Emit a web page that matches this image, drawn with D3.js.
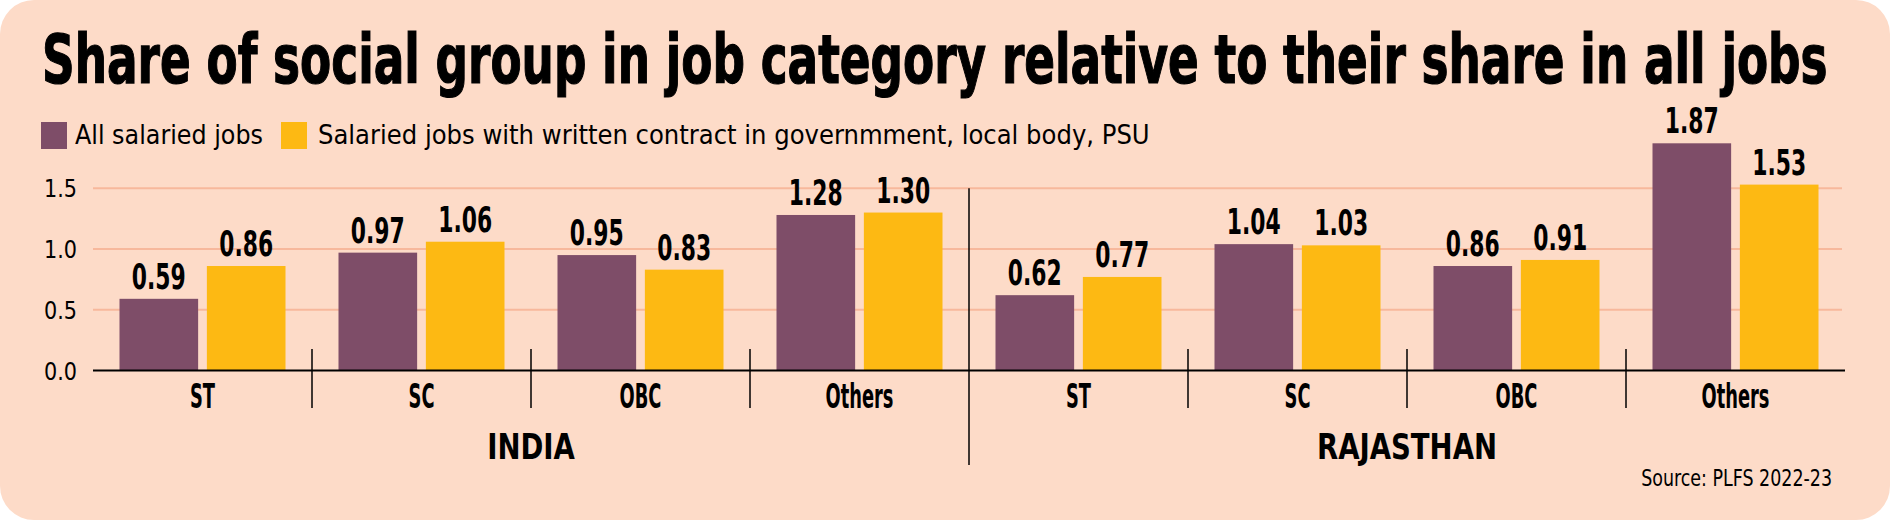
<!DOCTYPE html>
<html>
<head>
<meta charset="utf-8">
<script src="https://cdn.jsdelivr.net/npm/d3@7"></script>
<style>
  body { margin: 0; background: #ffffff; }
  text { font-family: "DejaVu Sans Condensed", "DejaVu Sans", sans-serif; fill: #000; }
  .bold { font-weight: bold; }
</style>
</head>
<body>
<div id="chart"></div>
<script>
// data
var regions = ["INDIA", "RAJASTHAN"];
var categories = ["ST", "SC", "OBC", "Others"];
var seriesNames = ["All salaried jobs", "Salaried jobs with written contract in governmment, local body, PSU"];
var indiaAll = [0.59, 0.97, 0.95, 1.28];
var indiaGovt = [0.86, 1.06, 0.83, 1.30];
var rajasthanAll = [0.62, 1.04, 0.86, 1.87];
var rajasthanGovt = [0.77, 1.03, 0.91, 1.53];
var yTicks = [0, 0.5, 1.0, 1.5];

var titleText = "Share of social group in job category relative to their share in all jobs";
var sourceText = "Source: PLFS 2022-23";

var colors = ["#7e4d68", "#fdb913"];

var svgWidth = 1890;
var svgHeight = 520;

var svg = d3.select("#chart")
  .append("svg")
  .attr("width", svgWidth)
  .attr("height", svgHeight);

// the reference uses a condensed face, so squeeze text horizontally
// around its anchor point
function squeeze(sel, x, y, s) {
  sel.attr("x", 0).attr("y", 0)
    .attr("transform", `translate(${x}, ${y}) scale(${s}, 1)`);
  return sel;
}

// horizontal factor so that a sample string gets the wanted width
function factorFor(sample, size, bold, target) {
  var t = svg.append("text")
    .classed("bold", bold)
    .style("font-size", size + "px")
    .text(sample);
  var w = t.node().getComputedTextLength();
  t.remove();
  return target / w;
}

// peach card
svg.append("rect")
  .attr("x", 0)
  .attr("y", 0)
  .attr("width", svgWidth)
  .attr("height", svgHeight)
  .attr("rx", 34)
  .attr("fill", "#fddbc8");

// title, heavier than a plain bold
var title = svg.append("text")
  .attr("class", "bold")
  .style("font-size", "68px")
  .attr("stroke", "#000")
  .attr("stroke-width", 1.2)
  .text(titleText);
squeeze(title, 42, 83, factorFor(titleText, 68, true, 1786));

// legend
var legendItems = [
  { x: 41, textX: 75, textW: 188 },
  { x: 281, textX: 318, textW: 832 }
];
legendItems.forEach(function(item, i) {
  svg.append("rect")
    .attr("x", item.x)
    .attr("y", 122)
    .attr("width", 26)
    .attr("height", 27)
    .attr("fill", colors[i]);
  var t = svg.append("text")
    .style("font-size", "27px")
    .text(seriesNames[i]);
  squeeze(t, item.textX, 144, factorFor(seriesNames[i], 27, false, item.textW));
});

// scales
var regionScale = d3.scaleBand()
  .domain(regions)
  .range([93, 1845]);

var catScale = d3.scaleBand()
  .domain(categories)
  .range([0, regionScale.bandwidth()]);

var seriesScale = d3.scaleBand()
  .domain([0, 1])
  .range([26.5, catScale.bandwidth() - 26.5])
  .paddingInner(0.1);

var yScale = d3.scaleLinear()
  .domain([0, 1.5])
  .range([370.5, 188.25]);

// gridlines
svg.append("g")
  .selectAll("line")
  .data(yTicks.filter(d => d > 0))
  .enter()
  .append("line")
  .attr("x1", 93)
  .attr("x2", 1842)
  .attr("y1", d => yScale(d))
  .attr("y2", d => yScale(d))
  .attr("stroke", "#f7b89c")
  .attr("stroke-width", 2);

// y tick labels
var tickFactor = factorFor("1.5", 25, false, 33);
svg.append("g")
  .selectAll("text")
  .data(yTicks)
  .enter()
  .append("text")
  .attr("text-anchor", "end")
  .attr("dy", "0.36em")
  .attr("transform", d => `translate(77, ${yScale(d)}) scale(${tickFactor}, 1)`)
  .style("font-size", "25px")
  .text(d => d3.format(".1f")(d));

// flatten the values into bars
var barData = [];
var regionValues = [[indiaAll, indiaGovt], [rajasthanAll, rajasthanGovt]];
regions.forEach(function(region, r) {
  categories.forEach(function(cat, c) {
    regionValues[r].forEach(function(series, s) {
      barData.push({ region: region, cat: cat, series: s, value: series[c] });
    });
  });
});

var barX = d => regionScale(d.region) + catScale(d.cat) + seriesScale(d.series);

svg.append("g")
  .selectAll("rect")
  .data(barData)
  .enter()
  .append("rect")
  .attr("x", barX)
  .attr("y", d => yScale(d.value))
  .attr("width", seriesScale.bandwidth())
  .attr("height", d => yScale(0) - yScale(d.value))
  .attr("fill", d => colors[d.series]);

// value labels
var valueFactor = factorFor("0.59", 35, true, 54);
svg.append("g")
  .selectAll("text")
  .data(barData)
  .enter()
  .append("text")
  .attr("class", "bold")
  .attr("text-anchor", "middle")
  .attr("transform", d => `translate(${barX(d) + seriesScale.bandwidth() / 2}, ${yScale(d.value) - 10}) scale(${valueFactor}, 1)`)
  .style("font-size", "35px")
  .text(d => d3.format(".2f")(d.value));

// baseline
svg.append("line")
  .attr("x1", 93)
  .attr("x2", 1845)
  .attr("y1", yScale(0))
  .attr("y2", yScale(0))
  .attr("stroke", "#000")
  .attr("stroke-width", 2);

// category separators and labels
var catFactor = factorFor("Others", 33, true, 68);
var regionFactor = factorFor("RAJASTHAN", 36, true, 180);
regions.forEach(function(region) {
  var rx = regionScale(region);
  categories.forEach(function(cat, c) {
    if (c > 0) {
      svg.append("line")
        .attr("x1", rx + catScale(cat))
        .attr("x2", rx + catScale(cat))
        .attr("y1", 349)
        .attr("y2", 408)
        .attr("stroke", "#000")
        .attr("stroke-width", 1.5);
    }
    var t = svg.append("text")
      .attr("class", "bold")
      .attr("text-anchor", "middle")
      .style("font-size", "33px")
      .text(cat);
    squeeze(t, rx + catScale(cat) + catScale.bandwidth() / 2, 408, catFactor);
  });

  var rt = svg.append("text")
    .attr("class", "bold")
    .attr("text-anchor", "middle")
    .style("font-size", "36px")
    .text(region);
  squeeze(rt, rx + regionScale.bandwidth() / 2, 459, regionFactor);
});

// divider between the two regions
svg.append("line")
  .attr("x1", regionScale("RAJASTHAN"))
  .attr("x2", regionScale("RAJASTHAN"))
  .attr("y1", yScale(1.5))
  .attr("y2", 465)
  .attr("stroke", "#000")
  .attr("stroke-width", 1.5);

// source
var source = svg.append("text")
  .attr("text-anchor", "end")
  .style("font-size", "23px")
  .text(sourceText);
squeeze(source, 1832, 486, factorFor(sourceText, 23, false, 191));
</script>
</body>
</html>
